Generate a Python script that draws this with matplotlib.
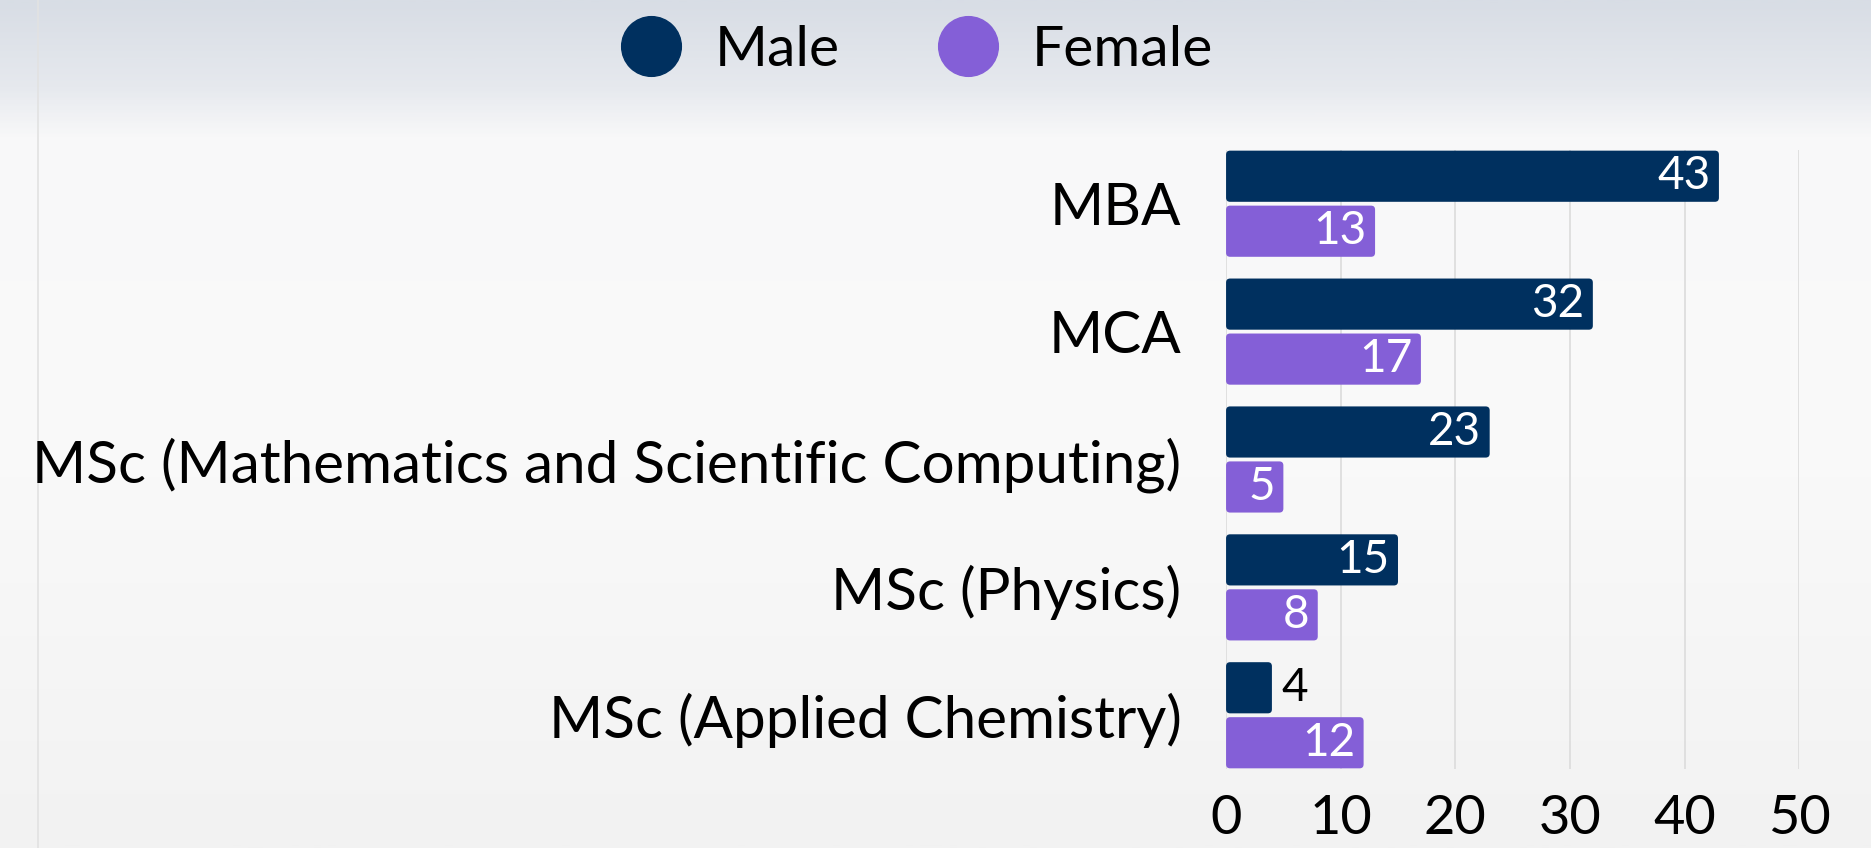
import matplotlib
matplotlib.use("Agg")
import matplotlib.pyplot as plt
from matplotlib.lines import Line2D
from matplotlib.patches import FancyBboxPatch
from matplotlib.colors import LinearSegmentedColormap
import numpy as np

# Data
programs = ["MBA", "MCA", "MSc (Mathematics and Scientific Computing)",
            "MSc (Physics)", "MSc (Applied Chemistry)"]
male = [43, 32, 23, 15, 4]
female = [13, 17, 5, 8, 12]
xticks = [0, 10, 20, 30, 40, 50]

MALE_COLOR = "#00305f"
FEMALE_COLOR = "#845fd7"
plt.rcParams["font.family"] = ["Lato", "DejaVu Sans"]

fig = plt.figure(figsize=(18.71, 8.48), dpi=100)

# background: grey-blue band on top fading to white
bg = fig.add_axes([0, 0, 1, 1], zorder=-10)
grad = np.linspace(0, 1, 400).reshape(-1, 1)
cmap = LinearSegmentedColormap.from_list(
    "bg", [(0.0, "#d8dde5"), (0.1, "#e6e9ee"), (0.16, "#f8f8f9"), (0.5, "#fafafa"), (1.0, "#f2f2f2")])
bg.imshow(grad, aspect="auto", cmap=cmap, extent=[0, 1, 0, 1], origin="upper")
bg.axvline(0.0203, color="#e2e2e2", lw=1.2)
bg.set_xlim(0, 1)
bg.set_ylim(0, 1)
bg.axis("off")

ax = fig.add_axes([0.6553, 0.0932, 0.3063, 0.7299])
ax.patch.set_alpha(0)

y = np.arange(len(programs))
h = 0.4
off = 0.215
bars_m = ax.barh(y - off, male, height=h, color=MALE_COLOR, zorder=3)
bars_f = ax.barh(y + off, female, height=h, color=FEMALE_COLOR, zorder=3)

# swap the plain rectangles for slightly rounded ones
for b in list(bars_m) + list(bars_f):
    b.set_visible(False)
    ax.add_patch(FancyBboxPatch((b.get_x(), b.get_y()), b.get_width(), b.get_height(),
                                boxstyle="round,pad=0,rounding_size=0.35",
                                mutation_aspect=0.09, facecolor=b.get_facecolor(),
                                edgecolor="none", zorder=3))

# value labels: white inside the bar, black outside when too short
for bars, vals in [(bars_m, male), (bars_f, female)]:
    for b, v in zip(bars, vals):
        cy = b.get_y() + b.get_height() / 2
        if v < 5:
            ax.annotate(str(v), (v, cy), xytext=(7, 0), textcoords="offset points",
                        ha="left", va="center", fontsize=33, color="black", zorder=4)
        else:
            ax.annotate(str(v), (v, cy), xytext=(-6, 0), textcoords="offset points",
                        ha="right", va="center", fontsize=33, color="white", zorder=4)

ax.set_xlim(0, 50)
ax.set_ylim(len(programs) - 1 + 0.42, -0.42)
ax.set_xticks(xticks)
ax.set_yticks(y)
ax.set_yticklabels(programs, fontsize=42)
ax.tick_params(axis="x", labelsize=39, length=0, pad=18)
ax.tick_params(axis="y", length=0, pad=32)
ax.grid(axis="x", color="#dcdcdc", lw=1.2, zorder=0)
for s in ax.spines.values():
    s.set_visible(False)

handles = [Line2D([], [], marker="o", ls="", markersize=43, color=MALE_COLOR),
           Line2D([], [], marker="o", ls="", markersize=43, color=FEMALE_COLOR)]
fig.legend(handles, ["Male", "Female"], loc="center", bbox_to_anchor=(0.4905, 0.94),
           ncol=2, frameon=False, fontsize=41, handlelength=1.0,
           handletextpad=0.62, columnspacing=1.75)

fig.savefig("out.png", dpi=100)
